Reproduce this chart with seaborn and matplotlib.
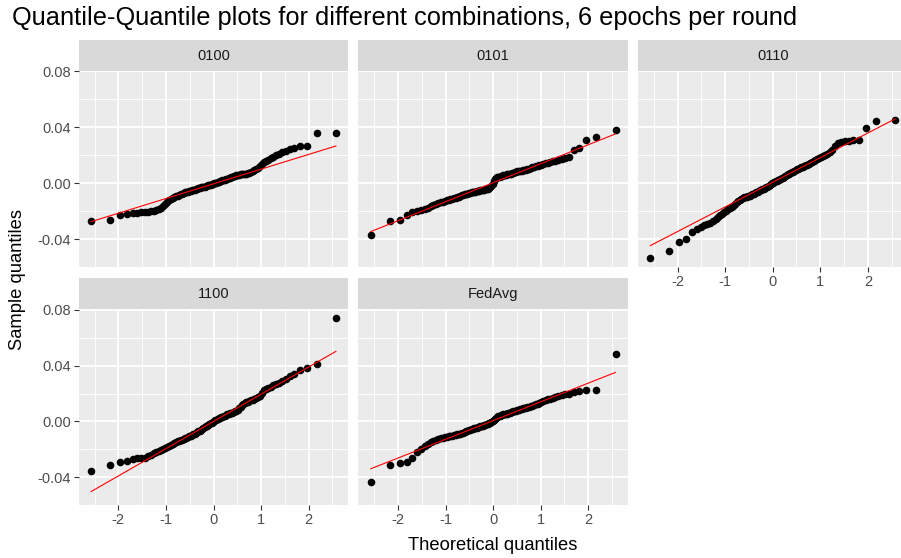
import matplotlib
matplotlib.use("Agg")
import matplotlib.pyplot as plt
from matplotlib.ticker import FixedLocator, FuncFormatter
import numpy as np
import pandas as pd
import seaborn as sns
from statistics import NormalDist

# ---------------- data (sorted sample quantiles) ----------------
combos = ["0100", "0101", "0110", "1100", "FedAvg"]

q_0100 = [-0.0265, -0.0262, -0.0228, -0.0216, -0.0212, -0.0209, -0.0207, -0.0205, -0.0203, -0.0200,
          -0.0196, -0.0190, -0.0182, -0.0174, -0.0164, -0.0150, -0.0133, -0.0122, -0.0113, -0.0106,
          -0.0099, -0.0093, -0.0087, -0.0082, -0.0077, -0.0073, -0.0069, -0.0065, -0.0062, -0.0059,
          -0.0056, -0.0053, -0.0050, -0.0047, -0.0044, -0.0041, -0.0038, -0.0035, -0.0032, -0.0029,
          -0.0027, -0.0025, -0.0023, -0.0021, -0.0018, -0.0015, -0.0012, -0.0009, -0.0006, -0.0003,
          0.0000, 0.0003, 0.0006, 0.0009, 0.0012, 0.0015, 0.0018, 0.0021, 0.0023, 0.0026,
          0.0029, 0.0032, 0.0035, 0.0038, 0.0042, 0.0046, 0.0050, 0.0054, 0.0057, 0.0060,
          0.0062, 0.0064, 0.0065, 0.0066, 0.0067, 0.0069, 0.0072, 0.0076, 0.0080, 0.0086,
          0.0092, 0.0100, 0.0110, 0.0122, 0.0138, 0.0152, 0.0162, 0.0170, 0.0180, 0.0190,
          0.0200, 0.0212, 0.0222, 0.0232, 0.0242, 0.0250, 0.0265, 0.0270, 0.0357, 0.0357]

q_0101 = [-0.0366, -0.0270, -0.0262, -0.0227, -0.0205, -0.0198, -0.0193, -0.0186, -0.0175, -0.0162,
          -0.0155, -0.0149, -0.0143, -0.0136, -0.0130, -0.0126, -0.0122, -0.0118, -0.0113, -0.0109,
          -0.0105, -0.0101, -0.0097, -0.0094, -0.0090, -0.0086, -0.0082, -0.0079, -0.0076, -0.0073,
          -0.0070, -0.0067, -0.0064, -0.0062, -0.0060, -0.0058, -0.0056, -0.0054, -0.0052, -0.0050,
          -0.0048, -0.0046, -0.0044, -0.0042, -0.0040, -0.0037, -0.0033, -0.0027, -0.0018, -0.0002,
          0.0018, 0.0030, 0.0037, 0.0042, 0.0046, 0.0049, 0.0052, 0.0055, 0.0058, 0.0060,
          0.0062, 0.0064, 0.0066, 0.0068, 0.0070, 0.0072, 0.0075, 0.0078, 0.0082, 0.0085,
          0.0087, 0.0089, 0.0091, 0.0093, 0.0095, 0.0098, 0.0102, 0.0106, 0.0110, 0.0114,
          0.0118, 0.0122, 0.0126, 0.0130, 0.0134, 0.0138, 0.0142, 0.0147, 0.0152, 0.0157,
          0.0161, 0.0166, 0.0172, 0.0178, 0.0186, 0.0238, 0.0250, 0.0312, 0.0330, 0.0378]

q_0110 = [-0.0533, -0.0485, -0.0421, -0.0394, -0.0347, -0.0325, -0.0312, -0.0300, -0.0290, -0.0280,
          -0.0268, -0.0255, -0.0240, -0.0228, -0.0218, -0.0206, -0.0196, -0.0186, -0.0176, -0.0165,
          -0.0155, -0.0145, -0.0135, -0.0126, -0.0116, -0.0109, -0.0104, -0.0100, -0.0097, -0.0094,
          -0.0091, -0.0087, -0.0083, -0.0078, -0.0073, -0.0068, -0.0063, -0.0058, -0.0054, -0.0050,
          -0.0046, -0.0042, -0.0038, -0.0033, -0.0028, -0.0023, -0.0017, -0.0011, -0.0005, 0.0000,
          0.0005, 0.0010, 0.0014, 0.0018, 0.0022, 0.0026, 0.0031, 0.0036, 0.0041, 0.0046,
          0.0052, 0.0058, 0.0064, 0.0069, 0.0074, 0.0079, 0.0084, 0.0089, 0.0094, 0.0099,
          0.0104, 0.0109, 0.0114, 0.0119, 0.0125, 0.0130, 0.0134, 0.0139, 0.0145, 0.0151,
          0.0158, 0.0166, 0.0175, 0.0184, 0.0191, 0.0198, 0.0205, 0.0213, 0.0225, 0.0240,
          0.0270, 0.0285, 0.0295, 0.0300, 0.0304, 0.0307, 0.0310, 0.0394, 0.0442, 0.0454]

q_1100 = [-0.0355, -0.0310, -0.0290, -0.0280, -0.0265, -0.0262, -0.0260, -0.0258, -0.0250, -0.0238,
          -0.0228, -0.0220, -0.0212, -0.0205, -0.0198, -0.0190, -0.0182, -0.0174, -0.0166, -0.0158,
          -0.0152, -0.0147, -0.0142, -0.0138, -0.0134, -0.0130, -0.0126, -0.0120, -0.0115, -0.0111,
          -0.0106, -0.0101, -0.0096, -0.0091, -0.0086, -0.0080, -0.0075, -0.0070, -0.0065, -0.0059,
          -0.0053, -0.0047, -0.0041, -0.0035, -0.0029, -0.0023, -0.0018, -0.0013, -0.0008, -0.0003,
          0.0003, 0.0008, 0.0013, 0.0018, 0.0022, 0.0026, 0.0030, 0.0034, 0.0038, 0.0042,
          0.0046, 0.0050, 0.0054, 0.0058, 0.0061, 0.0064, 0.0068, 0.0072, 0.0078, 0.0085,
          0.0095, 0.0105, 0.0115, 0.0124, 0.0130, 0.0136, 0.0142, 0.0147, 0.0152, 0.0156,
          0.0160, 0.0165, 0.0172, 0.0185, 0.0205, 0.0225, 0.0232, 0.0240, 0.0250, 0.0258,
          0.0265, 0.0275, 0.0290, 0.0305, 0.0325, 0.0338, 0.0370, 0.0382, 0.0410, 0.0738]

q_fedavg = [-0.0431, -0.0310, -0.0300, -0.0288, -0.0262, -0.0220, -0.0195, -0.0178, -0.0160, -0.0150,
            -0.0142, -0.0132, -0.0125, -0.0120, -0.0116, -0.0113, -0.0110, -0.0107, -0.0104, -0.0101,
            -0.0098, -0.0095, -0.0092, -0.0089, -0.0086, -0.0083, -0.0079, -0.0075, -0.0071, -0.0067,
            -0.0063, -0.0059, -0.0056, -0.0053, -0.0050, -0.0047, -0.0044, -0.0041, -0.0038, -0.0035,
            -0.0032, -0.0029, -0.0026, -0.0023, -0.0020, -0.0017, -0.0014, -0.0010, -0.0005, 0.0001,
            0.0009, 0.0018, 0.0026, 0.0033, 0.0038, 0.0042, 0.0045, 0.0048, 0.0050, 0.0052,
            0.0054, 0.0057, 0.0060, 0.0063, 0.0066, 0.0069, 0.0072, 0.0075, 0.0078, 0.0081,
            0.0084, 0.0087, 0.0090, 0.0093, 0.0096, 0.0099, 0.0102, 0.0105, 0.0108, 0.0111,
            0.0117, 0.0122, 0.0128, 0.0134, 0.0140, 0.0146, 0.0152, 0.0158, 0.0164, 0.0170,
            0.0176, 0.0182, 0.0188, 0.0194, 0.0200, 0.0208, 0.0215, 0.0222, 0.0225, 0.0480]

samples = [q_0100, q_0101, q_0110, q_1100, q_fedavg]

title = "Quantile-Quantile plots for different combinations, 6 epochs per round"
x_label = "Theoretical quantiles"
y_label = "Sample quantiles"
x_ticks = [-2, -1, 0, 1, 2]
y_ticks = [-0.04, 0.00, 0.04, 0.08]

# ---------------- style ----------------
sns.set_theme(style="darkgrid")
plt.rcParams["font.family"] = ["Liberation Sans", "DejaVu Sans"]
plt.rcParams["axes.unicode_minus"] = False

# ---------------- build QQ data ----------------
nd = NormalDist()
frames = []
lines = {}
for c, s in zip(combos, samples):
    n = len(s)
    theo = [nd.inv_cdf((i - 0.5) / n) for i in range(1, n + 1)]
    frames.append(pd.DataFrame({"combination": c, "theoretical": theo, "sample": sorted(s)}))
    q1, q3 = np.quantile(s, [0.25, 0.75])
    z1, z3 = nd.inv_cdf(0.25), nd.inv_cdf(0.75)
    slope = (q3 - q1) / (z3 - z1)
    icpt = q1 - slope * z1
    xs = [min(theo), max(theo)]
    lines[c] = pd.DataFrame({"theoretical": xs, "sample": [icpt + slope * x for x in xs]})
df = pd.concat(frames, ignore_index=True)

all_y = list(df["sample"]) + [v for d in lines.values() for v in d["sample"]]
ylo, yhi = min(all_y), max(all_y)
ypad = 0.05 * (yhi - ylo)
xlo, xhi = df["theoretical"].min(), df["theoretical"].max()
xpad = 0.05 * (xhi - xlo)

# ---------------- layout ----------------
W, H = 901, 558
fig = plt.figure(figsize=(W / 100, H / 100), dpi=100)
fig.patch.set_facecolor("white")

col_x = [78.7, 358.3, 637.9]
pw = 269.6
row_y = [(71.0, 267.0), (309.3, 505.0)]
strip_h = 31.0
grid_pos = {"0100": (0, 0), "0101": (0, 1), "0110": (0, 2), "1100": (1, 0), "FedAvg": (1, 1)}
show_x = {"0100": False, "0101": False, "0110": True, "1100": True, "FedAvg": True}

for c in combos:
    r, k = grid_pos[c]
    x0 = col_x[k]
    ytop, ybot = row_y[r]
    ax = fig.add_axes([x0 / W, 1 - ybot / H, pw / W, (ybot - ytop) / H])
    ax.set_facecolor("#EBEBEB")
    for sp in ax.spines.values():
        sp.set_visible(False)

    sub = df[df["combination"] == c]
    sns.scatterplot(data=sub, x="theoretical", y="sample", ax=ax, color="black",
                    s=30, linewidth=0, legend=False, zorder=3)
    sns.lineplot(data=lines[c], x="theoretical", y="sample", ax=ax, color="red",
                 linewidth=0.8, zorder=4)

    ax.set_xlim(xlo - xpad, xhi + xpad)
    ax.set_ylim(ylo - ypad, yhi + ypad)
    ax.xaxis.set_major_locator(FixedLocator(x_ticks))
    ax.yaxis.set_major_locator(FixedLocator(y_ticks))
    ax.xaxis.set_minor_locator(FixedLocator([x + 0.5 for x in [-3] + x_ticks]))
    ax.yaxis.set_minor_locator(FixedLocator([y - 0.02 for y in y_ticks] + [0.10]))
    ax.xaxis.set_major_formatter(FuncFormatter(lambda v, p: f"{v:.0f}"))
    ax.yaxis.set_major_formatter(FuncFormatter(lambda v, p: f"{v:.2f}"))
    ax.grid(True, which="major", color="white", linewidth=1.3)
    ax.grid(True, which="minor", color="white", linewidth=0.65)
    ax.set_axisbelow(True)
    ax.set_xlabel("")
    ax.set_ylabel("")

    ax.tick_params(axis="both", which="major", length=3.3, width=0.8, color="#333333",
                   labelsize=10.5, labelcolor="#4D4D4D", pad=2.5)
    ax.tick_params(axis="both", which="minor", length=0)
    ax.tick_params(axis="x", bottom=show_x[c], labelbottom=show_x[c])
    ax.tick_params(axis="y", left=(k == 0), labelleft=(k == 0))

    # strip
    sax = fig.add_axes([x0 / W, 1 - ytop / H, pw / W, strip_h / H])
    sax.set_facecolor("#D9D9D9")
    sax.grid(False)
    sax.set_xticks([])
    sax.set_yticks([])
    for sp in sax.spines.values():
        sp.set_visible(False)
    sax.text(0.5, 0.5, c, ha="center", va="center", fontsize=10.5, color="#1A1A1A",
             transform=sax.transAxes)

fig.text(12 / W, 1 - 18 / H, title, ha="left", va="center", fontsize=18.3, color="black")
fig.text(493 / W, 1 - 545 / H, x_label, ha="center", va="center", fontsize=13.2, color="black")
fig.text(18 / W, 1 - 280 / H, y_label, ha="center", va="center", rotation=90,
         fontsize=13.2, color="black")

fig.savefig("out.png", dpi=100, facecolor="white")
